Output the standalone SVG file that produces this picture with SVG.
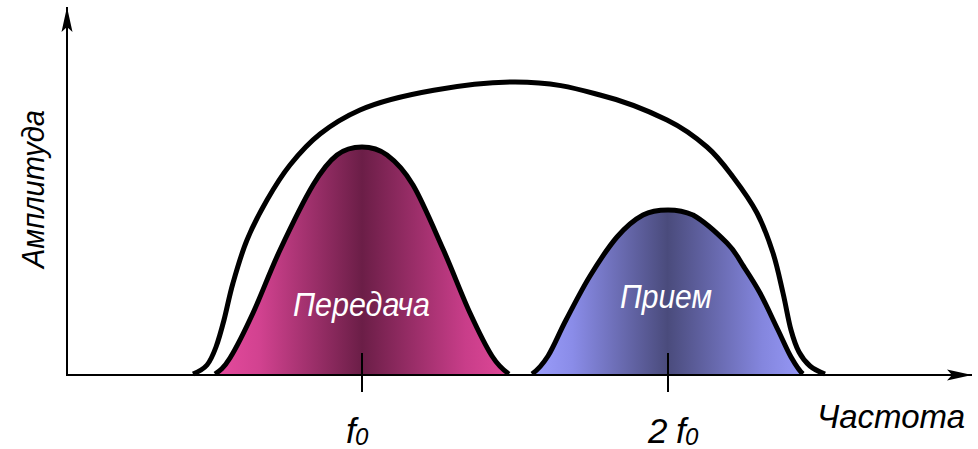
<svg xmlns="http://www.w3.org/2000/svg" width="978" height="449" viewBox="0 0 978 449">
  <style>
    .curve { fill: none; stroke: #000; stroke-width: 5; stroke-linejoin: round; stroke-linecap: butt; }
    .axis { fill: none; stroke: #000; stroke-width: 2; }
    .tick { stroke: #000; stroke-width: 2; }
    .lbl { font-family: "Liberation Sans", Arial, sans-serif; font-style: italic; fill: #000; }
    .inlbl { font-family: "Liberation Sans", Arial, sans-serif; font-style: italic; fill: #fff; }
  </style>
  <defs>
    <marker id="arr" markerUnits="userSpaceOnUse" markerWidth="30" markerHeight="14" refX="0" refY="0" viewBox="-26 -7 30 14" orient="auto" overflow="visible">
      <path d="M0,0 L-25,-5.5 L-20,0 L-25,5.5 Z" fill="#000"/>
    </marker>
    <linearGradient id="gTx" gradientUnits="userSpaceOnUse" x1="215" y1="0" x2="509" y2="0">
      <stop offset="0" stop-color="#E64B9E"/>
      <stop offset="0.15" stop-color="#D24290"/>
      <stop offset="0.5" stop-color="#6B1E47"/>
      <stop offset="0.85" stop-color="#C83D89"/>
      <stop offset="1" stop-color="#E04898"/>
    </linearGradient>
    <linearGradient id="gRx" gradientUnits="userSpaceOnUse" x1="532" y1="0" x2="803" y2="0">
      <stop offset="0" stop-color="#9C9EFC"/>
      <stop offset="0.15" stop-color="#8A8CE8"/>
      <stop offset="0.5" stop-color="#4A4B7C"/>
      <stop offset="0.85" stop-color="#8486DE"/>
      <stop offset="1" stop-color="#9698F6"/>
    </linearGradient>
  </defs>

  <g id="tx">
    <path fill="url(#gTx)" d="M215,374 C219.5,371 223.7,368.2 230,358 C236.3,347.8 244.7,331 253,313 C261.3,295 270,271.3 280,250 C290,228.7 303.5,200.8 313,185 C322.5,169.2 328.8,161.3 337,155 C345.2,148.7 353.7,147 362,147 C370.3,147 378.5,148.7 387,155 C395.5,161.3 403.7,169.3 413,185 C422.3,200.7 433.5,227.7 443,249 C452.5,270.3 461.8,295.2 470,313 C478.2,330.8 485.5,345.8 492,356 C498.5,366.2 504.2,370.7 509,374 L509,375 L215,375 Z"/>
    <path class="curve" d="M215,374 C219.5,371 223.7,368.2 230,358 C236.3,347.8 244.7,331 253,313 C261.3,295 270,271.3 280,250 C290,228.7 303.5,200.8 313,185 C322.5,169.2 328.8,161.3 337,155 C345.2,148.7 353.7,147 362,147 C370.3,147 378.5,148.7 387,155 C395.5,161.3 403.7,169.3 413,185 C422.3,200.7 433.5,227.7 443,249 C452.5,270.3 461.8,295.2 470,313 C478.2,330.8 485.5,345.8 492,356 C498.5,366.2 504.2,370.7 509,374"/>
    <text class="inlbl" x="293" y="316" font-size="34" textLength="137" lengthAdjust="spacingAndGlyphs">Передача</text>
  </g>

  <g id="rx">
    <path fill="url(#gRx)" d="M532,374 C536.7,370.7 542.3,365 548,356 C553.7,347 559,333.3 566,320 C573,306.7 581.5,289.8 590,276 C598.5,262.2 608.2,247.2 617,237 C625.8,226.8 634.5,219.5 643,215 C651.5,210.5 659.7,210 668,210 C676.3,210 684,211 693,215 C702.8,220.5 718.3,234.3 727,243 C735.7,251.7 738.5,258.7 744,267 C749.5,275.3 754.3,282.5 760,293 C765.7,303.5 772.8,319.3 778,330 C783.2,340.7 786.8,349.7 791,357 C795.2,364.3 799,370.8 803,374 L803,375 L532,375 Z"/>
    <path class="curve" d="M532,374 C536.7,370.7 542.3,365 548,356 C553.7,347 559,333.3 566,320 C573,306.7 581.5,289.8 590,276 C598.5,262.2 608.2,247.2 617,237 C625.8,226.8 634.5,219.5 643,215 C651.5,210.5 659.7,210 668,210 C676.3,210 684,211 693,215 C702.8,220.5 718.3,234.3 727,243 C735.7,251.7 738.5,258.7 744,267 C749.5,275.3 754.3,282.5 760,293 C765.7,303.5 772.8,319.3 778,330 C783.2,340.7 786.8,349.7 791,357 C795.2,364.3 799,370.8 803,374"/>
    <text class="inlbl" x="620" y="308" font-size="34" textLength="92" lengthAdjust="spacingAndGlyphs">Прием</text>
  </g>

  <g id="envelope">
    <path class="curve" d="M193,374 C197.3,372.2 203.2,369.5 207,365 C210.8,360.5 213.2,354.5 216,347 C218.8,339.5 221.2,330.7 224,320 C226.8,309.3 229.2,296.3 233,283 C236.8,269.7 241.3,253.8 247,240 C252.7,226.2 259.8,212.5 267,200 C274.2,187.5 281.2,176 290,165 C298.8,154 308.3,143.2 320,134 C331.7,124.8 344.5,116.8 360,110 C395,94.6 470,82 515,82 C555,82 576,88.5 600,95 C625.3,101.3 649.2,111.3 667,120 C684.8,128.7 696,137.5 707,147 C718,156.5 724.7,166 733,177 C741.3,188 750.3,200.3 757,213 C763.7,225.7 768.7,239.7 773,253 C777.3,266.3 780,280.2 783,293 C786,305.8 788.3,320.2 791,330 C793.7,339.8 795.8,346 799,352 C802.2,358 805.7,362.3 810,366 C814.3,369.7 820.5,372.3 825,374"/>
  </g>

  <g id="axes">
    <line class="axis" x1="67" y1="375" x2="67" y2="7" marker-end="url(#arr)"/>
    <line class="axis" x1="66" y1="375" x2="972" y2="375" marker-end="url(#arr)"/>
    <line class="tick" x1="362" y1="353" x2="362" y2="392"/>
    <line class="tick" x1="668" y1="353" x2="668" y2="392"/>
  </g>

  <g id="labels">
    <text class="lbl" transform="translate(44,268) rotate(-90)" font-size="31" textLength="158" lengthAdjust="spacingAndGlyphs">Амплитуда</text>
    <text class="lbl" x="965" y="428" font-size="33" text-anchor="end">Частота</text>
    <text class="lbl" x="346" y="443" font-size="35">f</text>
    <text class="lbl" x="355" y="445" font-size="24">0</text>
    <text class="lbl" x="648" y="443" font-size="35">2</text>
    <text class="lbl" x="676" y="443" font-size="35">f</text>
    <text class="lbl" x="685" y="445" font-size="24">0</text>
  </g>
</svg>
